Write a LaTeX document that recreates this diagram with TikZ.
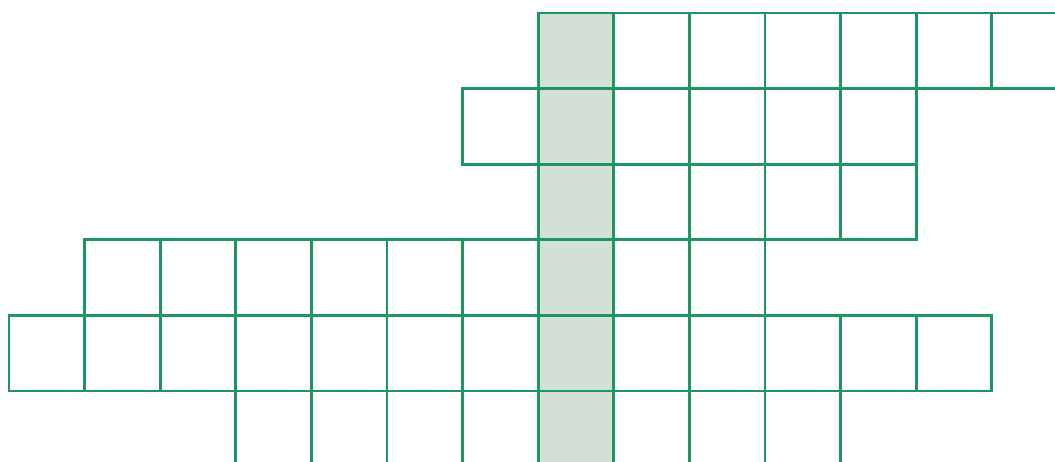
\documentclass[tikz,border=0pt]{standalone}
\usepackage{xcolor}
\usepackage{tikz}
\definecolor{gridg}{HTML}{1E9662}
\definecolor{solfill}{HTML}{D3E0D5}
% one row of cells: row, first column, last column
\newcommand{\cellrow}[3]{%
  \foreach \c in {#2,...,#3}{\draw[gridg,line width=1.1pt] (\c,-#1) rectangle ++(1,-1);}
}
\newcommand{\solcol}{%
  \fill[solfill] (7,0) rectangle (8,-6);
}

\begin{document}
\begin{tikzpicture}
\useasboundingbox (-0.119,0.172) rectangle (13.836,-5.926);
\clip (-0.119,0.172) rectangle (13.836,-5.926);
\solcol
\cellrow{0}{7}{13} \cellrow{1}{6}{11} \cellrow{2}{7}{11}
\cellrow{3}{1}{9} \cellrow{4}{0}{12} \cellrow{5}{3}{10}
\end{tikzpicture}
\end{document}
